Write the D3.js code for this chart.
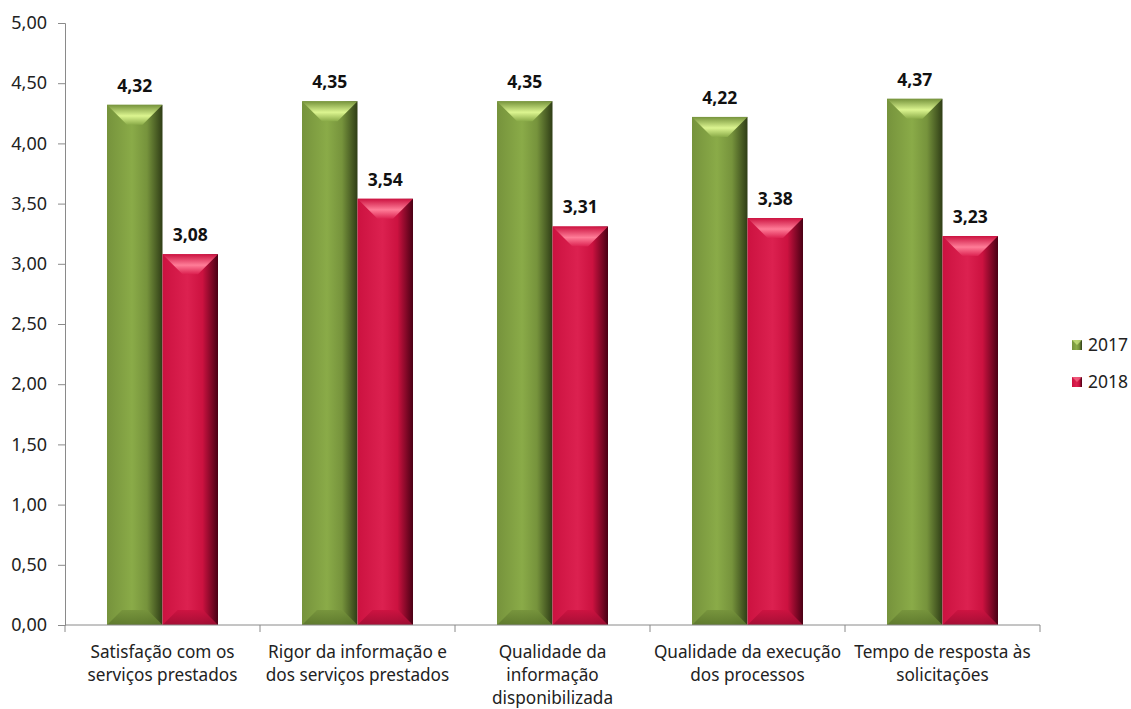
<!DOCTYPE html>
<html>
<head>
<meta charset="utf-8">
<script src="https://cdn.jsdelivr.net/npm/d3@7"></script>
<style>
  body { margin: 0; background: #fff; }
  text { font-family: "Noto Sans", "Open Sans", sans-serif; }
</style>
</head>
<body>
<script>
// chart data
let categories = [
  ["Satisfação com os", "serviços prestados"],
  ["Rigor da informação e", "dos serviços prestados"],
  ["Qualidade da", "informação", "disponibilizada"],
  ["Qualidade da execução", "dos processos"],
  ["Tempo de resposta às", "solicitações"]
]
let years = ["2017", "2018"]
let values2017 = [4.32, 4.35, 4.35, 4.22, 4.37]
let values2018 = [3.08, 3.54, 3.31, 3.38, 3.23]
let yTicks = [0, 0.5, 1, 1.5, 2, 2.5, 3, 3.5, 4, 4.5, 5]

let width = 1131, height = 709
let plotLeft = 65, plotRight = 1040, plotTop = 23, plotBottom = 625

let svg = d3.select("body").append("svg")
    .attr("width", width)
    .attr("height", height)

let fmt = v => d3.format(".2f")(v).replace(".", ",")

let x = d3.scaleBand()
  .domain(d3.range(categories.length))
  .range([plotLeft, plotRight])

let inner = d3.scaleBand()
  .domain(years)
  .range([42, x.bandwidth() - 42])

let y = d3.scaleLinear()
  .domain([0, 5])
  .range([plotBottom, plotTop])

// colours for each series: base, light, dark, top highlight, bottom
let palette = {
  "2017": { base: "#76933c", light: "#8aab48", dark: "#2f3d16", hi: "#dcf590", bot: "#5c772c" },
  "2018": { base: "#cc1240", light: "#dc2150", dark: "#4a0014", hi: "#ff7d98", bot: "#a00d33" }
}

let defs = svg.append("defs")
years.forEach(k => {
  let p = palette[k]
  let g = defs.append("linearGradient").attr("id", "side" + k)
  g.append("stop").attr("offset", "0%").attr("stop-color", p.base)
  g.append("stop").attr("offset", "45%").attr("stop-color", p.light)
  g.append("stop").attr("offset", "72%").attr("stop-color", p.base)
  g.append("stop").attr("offset", "100%").attr("stop-color", p.dark)
  let t = defs.append("linearGradient").attr("id", "top" + k)
    .attr("x1", 0).attr("y1", 0).attr("x2", 0).attr("y2", 1)
  t.append("stop").attr("offset", "0%").attr("stop-color", p.base)
  t.append("stop").attr("offset", "55%").attr("stop-color", p.hi)
  t.append("stop").attr("offset", "100%").attr("stop-color", p.light)
  let b = defs.append("linearGradient").attr("id", "bot" + k)
    .attr("x1", 0).attr("y1", 0).attr("x2", 0).attr("y2", 1)
  b.append("stop").attr("offset", "0%").attr("stop-color", p.base)
  b.append("stop").attr("offset", "100%").attr("stop-color", p.bot)
})

let rows = []
categories.forEach((c, i) => {
  rows.push({ i: i, key: "2017", v: values2017[i] })
  rows.push({ i: i, key: "2018", v: values2018[i] })
})

let bw = inner.bandwidth()
let bars = svg.selectAll("g.bar")
  .data(rows)
  .enter()
  .append("g")
  .attr("class", "bar")
  .attr("transform", d => `translate(${x(d.i) + inner(d.key)},0)`)

bars.append("rect")
  .attr("x", 0)
  .attr("y", d => y(d.v))
  .attr("width", bw)
  .attr("height", d => y(0) - y(d.v))
  .attr("fill", d => `url(#side${d.key})`)

// bevel on top
bars.append("polygon")
  .attr("points", d => {
    let t = y(d.v), b = 20
    return [[0, t], [bw, t], [bw - b, t + b], [b, t + b]].join(" ")
  })
  .attr("fill", d => `url(#top${d.key})`)

// bevel on bottom
bars.append("polygon")
  .attr("points", d => {
    let t = y(0), b = 15
    return [[0, t], [bw, t], [bw - b, t - b], [b, t - b]].join(" ")
  })
  .attr("fill", d => `url(#bot${d.key})`)
  .attr("opacity", 0.9)

// value labels
bars.append("text")
  .attr("x", bw / 2)
  .attr("y", d => y(d.v) - 13)
  .attr("text-anchor", "middle")
  .attr("font-size", 17.5)
  .attr("font-weight", "bold")
  .attr("fill", "#111")
  .text(d => fmt(d.v))

// y axis
let yAxis = svg.append("g")
  .attr("transform", `translate(${plotLeft},0)`)
  .call(d3.axisLeft(y).tickValues(yTicks).tickFormat(fmt).tickSize(7).tickPadding(11))
yAxis.selectAll("path, line").attr("stroke", "#8a8a8a")
yAxis.selectAll("text").attr("font-size", 18).attr("fill", "#222")
  .attr("font-family", "Noto Sans, sans-serif")

// x axis
let xAxis = svg.append("g")
  .attr("transform", `translate(0,${plotBottom})`)
xAxis.append("line")
  .attr("x1", plotLeft).attr("x2", plotRight)
  .attr("stroke", "#8a8a8a")
xAxis.selectAll("line.tick")
  .data(d3.range(categories.length + 1))
  .enter()
  .append("line")
  .attr("class", "tick")
  .attr("x1", i => i < categories.length ? x(i) : plotRight)
  .attr("x2", i => i < categories.length ? x(i) : plotRight)
  .attr("y1", 0).attr("y2", 7)
  .attr("stroke", "#8a8a8a")

xAxis.selectAll("text")
  .data(categories)
  .enter()
  .append("text")
  .attr("x", (c, i) => x(i) + x.bandwidth() / 2)
  .attr("y", 33)
  .attr("text-anchor", "middle")
  .attr("font-size", 17.2)
  .attr("fill", "#222")
  .selectAll("tspan")
  .data(c => c)
  .enter()
  .append("tspan")
  .attr("x", function () { return this.parentNode.getAttribute("x") })
  .attr("dy", (t, j) => j === 0 ? 0 : 23)
  .text(t => t)

// legend
let legend = svg.selectAll("g.legend")
  .data(years)
  .enter()
  .append("g")
  .attr("class", "legend")
  .attr("transform", (k, i) => `translate(1072,${340 + i * 37})`)
legend.append("rect")
  .attr("width", 10).attr("height", 10)
  .attr("fill", k => `url(#side${k})`)
legend.append("polygon")
  .attr("points", "0,0 10,0 5,5")
  .attr("fill", k => palette[k].hi)
  .attr("opacity", 0.6)
legend.append("text")
  .attr("x", 16).attr("y", 11)
  .attr("font-size", 17.5)
  .attr("fill", "#222")
  .text(k => k)
</script>
</body>
</html>
